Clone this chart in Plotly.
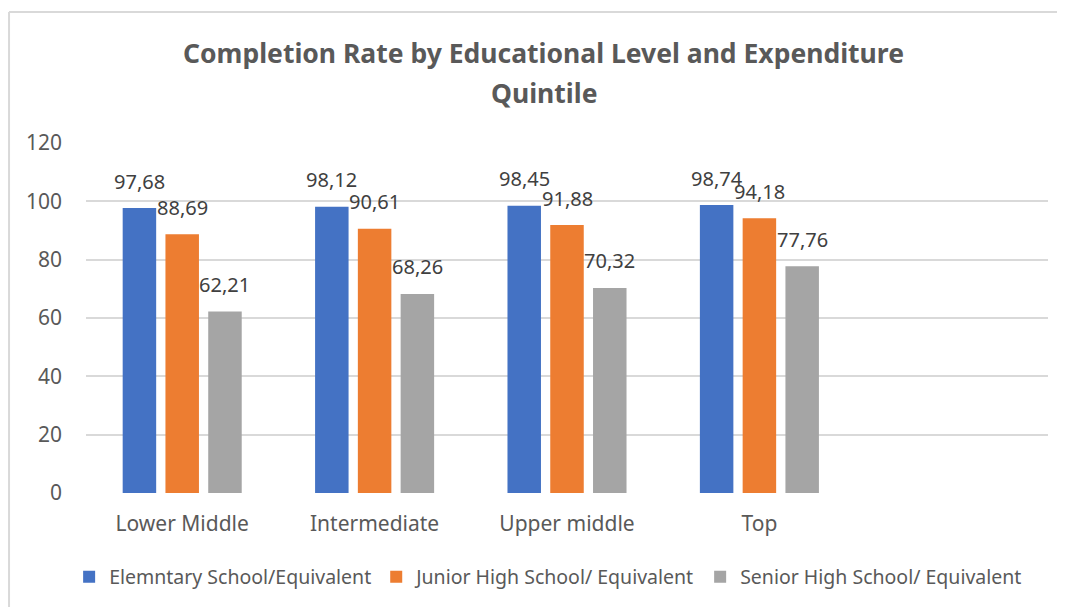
import plotly.graph_objects as go

categories = ["Lower Middle", "Intermediate", "Upper middle", "Top"]
series_names = [
    "Elemntary School/Equivalent",
    "Junior High School/ Equivalent",
    "Senior High School/ Equivalent",
]
elementary = [97.68, 98.12, 98.45, 98.74]
junior = [88.69, 90.61, 91.88, 94.18]
senior = [62.21, 68.26, 70.32, 77.76]
y_ticks = [0, 20, 40, 60, 80, 100, 120]
title_lines = ["Completion Rate by Educational Level and Expenditure", "Quintile"]

series_values = [elementary, junior, senior]
colors = ["#4472C4", "#ED7D31", "#A5A5A5"]

FONT = "Noto Sans"
BARGAP = 0.333
GROUPGAP = 0.217
n_series = len(series_values)
slot = (1 - BARGAP) / n_series

x_idx = list(range(len(categories)))

fig = go.Figure()
annotations = []
for k, (name, vals, col) in enumerate(zip(series_names, series_values, colors)):
    fig.add_trace(go.Bar(
        x=x_idx, y=vals, name=name, marker=dict(color=col, line=dict(width=0)),
    ))
    for i, v in enumerate(vals):
        annotations.append(dict(
            x=i + (k - (n_series - 1) / 2) * slot, y=v, xref="x", yref="y",
            text=f"{v:.2f}".replace(".", ","), showarrow=False,
            yanchor="middle", yshift=27,
            font=dict(family=FONT, size=20, color="#404040"),
        ))

# title (two lines, Excel-like spacing)
for line, ypos in zip(title_lines, [1.257, 1.143]):
    annotations.append(dict(
        x=0.476, y=ypos, xref="paper", yref="paper", xanchor="center", yanchor="middle",
        text=f"<b>{line}</b>", showarrow=False,
        font=dict(family=FONT, size=26.5, color="#595959"),
    ))

fig.update_layout(
    width=1057, height=599,
    margin=dict(l=78, r=17, t=135, b=114, autoexpand=False),
    paper_bgcolor="white", plot_bgcolor="white",
    barmode="group", bargap=BARGAP, bargroupgap=GROUPGAP,
    xaxis=dict(
        range=[-0.5, 4.5], tickvals=x_idx, ticktext=categories,
        showgrid=False, zeroline=False, showline=False, ticks="",
        ticklabelstandoff=16,
        tickfont=dict(family=FONT, size=21, color="#595959"),
    ),
    yaxis=dict(
        range=[0, 120], tickvals=y_ticks,
        showgrid=True, gridcolor="#D9D9D9", gridwidth=1.5,
        zeroline=False, showline=False, ticks="",
        ticklabelstandoff=23,
        tickfont=dict(family=FONT, size=21, color="#595959"),
    ),
    legend=dict(
        orientation="h", xref="container", yref="container",
        x=0.511, xanchor="center", y=(599 - 569) / 599, yanchor="middle",
        font=dict(family=FONT, size=19.5, color="#595959"),
        itemwidth=30, tracegroupgap=0,
    ),
    showlegend=True,
    annotations=annotations,
    shapes=[
        dict(type="line", xref="paper", yref="paper", x0=-0.080, x1=-0.080,
             y0=-0.5, y1=1.374, line=dict(color="#D9D9D9", width=2)),
        dict(type="line", xref="paper", yref="paper", x0=-0.080, x1=1.1,
             y0=1.374, y1=1.374, line=dict(color="#D9D9D9", width=2)),
    ],
)

fig.write_html("out.html")
